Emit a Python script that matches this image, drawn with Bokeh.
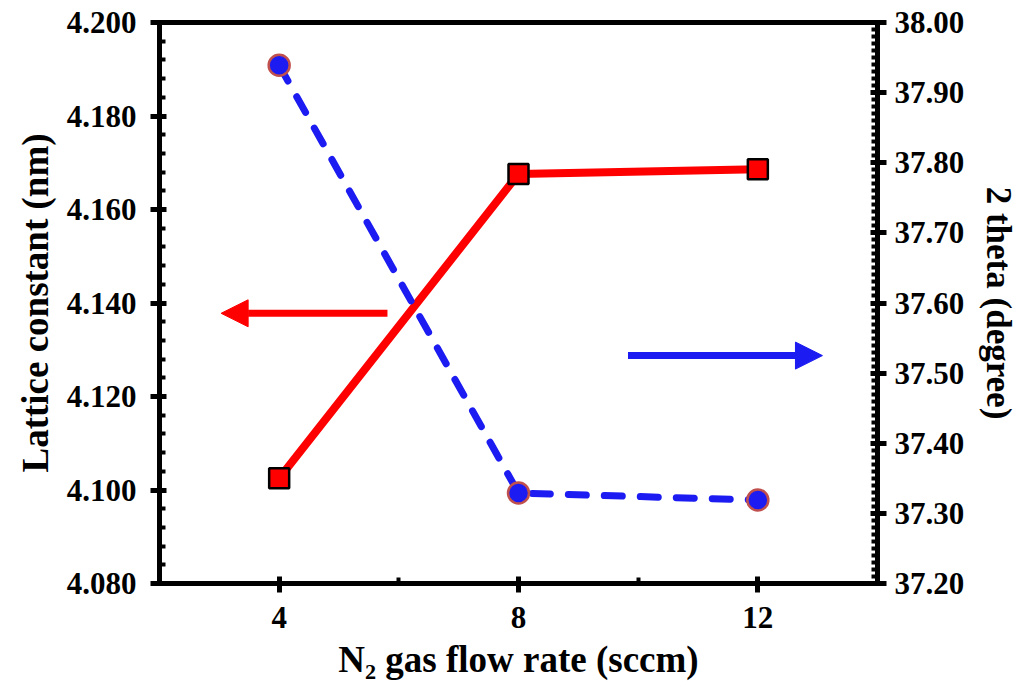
from bokeh.plotting import figure
from bokeh.models import (Range1d, LinearAxis, FixedTicker, PrintfTickFormatter,
                          Arrow, NormalHead, ColumnDataSource)
from bokeh.embed import file_html
from bokeh.resources import INLINE
import numpy as np

# ---- data ----
flow_rate = [4, 8, 12]
lattice_constant = [4.1025, 4.1676, 4.1686]
two_theta = [37.939, 37.329, 37.319]

x_ticks = [4, 8, 12]
x_minor = [2, 6, 10, 14]
left_ticks = [4.080, 4.100, 4.120, 4.140, 4.160, 4.180, 4.200]
right_ticks = [37.20, 37.30, 37.40, 37.50, 37.60, 37.70, 37.80, 37.90, 38.00]

FONT = "Liberation Serif"
RED = "#ff0000"
BLUE = "#1b1bf2"

p = figure(width=1034, height=688, output_backend="svg", toolbar_location=None,
           x_range=Range1d(2, 14), y_range=Range1d(4.080, 4.200),
           min_border_left=159, min_border_right=157, min_border_top=22,
           min_border_bottom=105)
p.extra_y_ranges = {"right": Range1d(37.20, 38.00)}
p.xgrid.visible = False
p.ygrid.visible = False
p.outline_line_color = "black"
p.outline_line_width = 5
p.background_fill_color = "white"
p.border_fill_color = "white"

right_axis = LinearAxis(y_range_name="right")
p.add_layout(right_axis, "right")

left_minor = list(np.round(np.arange(4.080, 4.2001, 0.004), 4))
right_minor = list(np.round(np.arange(37.20, 38.0001, 0.01), 3))

p.xaxis.ticker = FixedTicker(ticks=x_ticks, minor_ticks=x_minor)
p.yaxis[0].ticker = FixedTicker(ticks=left_ticks, minor_ticks=left_minor)
right_axis.ticker = FixedTicker(ticks=right_ticks, minor_ticks=right_minor)
p.yaxis[0].formatter = PrintfTickFormatter(format="%.3f")
right_axis.formatter = PrintfTickFormatter(format="%.2f")

p.xaxis.axis_label = "N₂ gas flow rate (sccm)"
p.yaxis[0].axis_label = "Lattice constant (nm)"
right_axis.axis_label = "2 theta (degree)"

for ax in [p.xaxis[0], p.yaxis[0], right_axis]:
    ax.axis_line_width = 5
    ax.axis_line_color = "black"
    ax.major_tick_line_width = 5
    ax.minor_tick_line_width = 4
    ax.minor_tick_line_color = "black"
    ax.major_tick_in = 7
    ax.major_tick_out = 9
    ax.minor_tick_in = 6
    ax.minor_tick_out = 0
    ax.major_label_text_font = FONT
    ax.major_label_text_font_style = "bold"
    ax.major_label_text_font_size = "31px"
    ax.major_label_text_color = "black"
    ax.axis_label_text_font = FONT
    ax.axis_label_text_font_style = "bold"
    ax.axis_label_text_color = "black"

p.xaxis.axis_label_text_font_size = "37px"
p.yaxis[0].axis_label_text_font_size = "37px"
right_axis.axis_label_text_font_size = "35px"

p.xaxis.major_label_standoff = 14
p.xaxis.axis_label_standoff = 8
p.yaxis[0].major_label_standoff = 14
p.yaxis[0].axis_label_standoff = 8
right_axis.major_label_standoff = 8
right_axis.axis_label_standoff = 12

src = ColumnDataSource(dict(x=flow_rate, lat=lattice_constant, th=two_theta))

p.line("x", "lat", source=src, line_color=RED, line_width=8)
p.scatter("x", "lat", source=src, marker="square", size=20, fill_color=RED,
          line_color="black", line_width=2.5)

p.line("x", "th", source=src, y_range_name="right", line_color=BLUE, line_width=7,
       line_dash="18 18", line_cap="round")
p.scatter("x", "th", source=src, y_range_name="right", marker="circle", size=21,
          fill_color=BLUE, line_color="#c0504d", line_width=2.5)

# direction arrows (annotations)
p.add_layout(Arrow(end=NormalHead(size=27, fill_color=RED, line_color=RED, line_width=1),
                   x_start=5.81, y_start=4.1378, x_end=3.03, y_end=4.1378,
                   line_color=RED, line_width=7))
p.add_layout(Arrow(end=NormalHead(size=27, fill_color=BLUE, line_color=BLUE, line_width=1),
                   x_start=9.83, y_start=37.525, x_end=13.08, y_end=37.525,
                   y_range_name="right", line_color=BLUE, line_width=7))

open("out.html", "w").write(file_html(p, INLINE))
